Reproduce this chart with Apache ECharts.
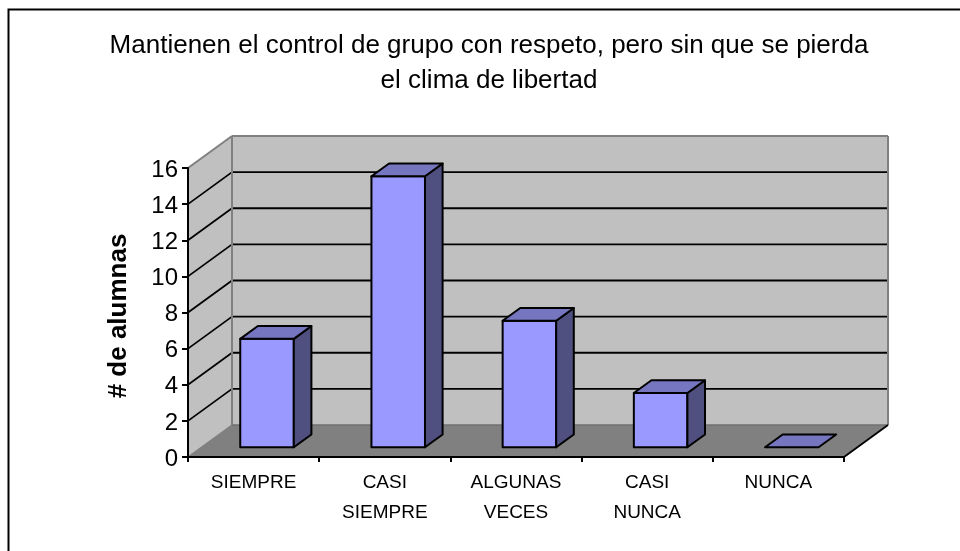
<!DOCTYPE html>
<html>
<head>
<meta charset="utf-8">
<style>html,body{margin:0;padding:0;background:#fff}#c{width:960px;height:551px}</style>
<script src="https://cdn.jsdelivr.net/npm/echarts@6/dist/echarts.min.js"></script>
</head>
<body>
<div id="c"></div>
<script>
const categories = ['SIEMPRE', 'CASI\nSIEMPRE', 'ALGUNAS\nVECES', 'CASI\nNUNCA', 'NUNCA'];
const values = [6, 15, 7, 3, 0];
const yTicks = [0, 2, 4, 6, 8, 10, 12, 14, 16];
const titleText = 'Mantienen el control de grupo con respeto, pero sin que se pierda\nel clima de libertad';
const yName = '# de alumnas';

const FONT = '"Liberation Sans", Arial, sans-serif';
const DX = 44, DY = -32;
const chart = echarts.init(document.getElementById('c'), null, {renderer: 'canvas'});

function poly(points, fill, stroke, lw) {
  return {type: 'polygon', shape: {points}, style: {fill, stroke: stroke || 'none', lineWidth: lw || 0, lineJoin: 'round'}};
}
function line(a, b, stroke, lw) {
  return {type: 'line', shape: {x1: a[0], y1: a[1], x2: b[0], y2: b[1]}, style: {stroke, lineWidth: lw}};
}
function shift(p, t) { return [p[0] + DX * t, p[1] + DY * t]; }

function renderWalls(params, api) {
  const w = api.size([1, 0])[0];
  const n = categories.length;
  const o0 = api.coord([0, 0]);
  const x0 = o0[0] - w / 2, x1 = x0 + w * n;
  const yB = o0[1];
  const yT = api.coord([0, yTicks[yTicks.length - 1]])[1];
  const FL = [x0, yB], FR = [x1, yB], TL = [x0, yT];
  const BL = shift(FL, 1), BR = shift(FR, 1), BTL = shift(TL, 1), BTR = [BR[0], BTL[1]];
  const edge = '#808080';
  const kids = [
    poly([BL, BR, BTR, BTL], '#C0C0C0'),
    poly([FL, BL, BTL, TL], '#C0C0C0'),
    poly([FL, FR, BR, BL], '#808080')
  ];
  yTicks.forEach(function (t) {
    const y = api.coord([0, t])[1];
    if (t === 0 || t === yTicks[yTicks.length - 1]) return;
    const a = [x0, y], b = shift(a, 1);
    kids.push(line(a, b, '#000', 1.8));
    kids.push(line(b, [BR[0], b[1]], '#000', 1.8));
  });
  kids.push(line(BTL, BTR, edge, 2));
  kids.push(line(TL, BTL, edge, 2));
  kids.push(line(BTL, BL, edge, 2));
  kids.push(line(BTR, BR, edge, 2));
  kids.push(line(BL, BR, '#707070', 1.5));
  kids.push(line(FL, BL, edge, 1.5));
  kids.push(line(FR, BR, '#000', 1.8));
  return {type: 'group', children: kids};
}

function renderBar(params, api) {
  const idx = api.value(0), val = api.value(1);
  const w = api.size([1, 0])[0];
  const c = api.coord([idx, 0]), top = api.coord([idx, val]);
  const bw = w / 2.45;
  const d0 = 0.305, d1 = 0.705;
  const fl = [c[0] - bw / 2, c[1]], fr = [c[0] + bw / 2, c[1]];
  const tl = [fl[0], top[1]], tr = [fr[0], top[1]];
  const F = [shift(fl, d0), shift(fr, d0), shift(tr, d0), shift(tl, d0)];
  const S = [shift(fr, d0), shift(fr, d1), shift(tr, d1), shift(tr, d0)];
  const T = [shift(tl, d0), shift(tr, d0), shift(tr, d1), shift(tl, d1)];
  const kids = [];
  if (val > 0) {
    kids.push(poly(F, '#9999FF', '#000', 2));
    kids.push(poly(S, '#4F4F80', '#000', 2));
  }
  kids.push(poly(T, '#7676C0', '#000', 2));
  return {type: 'group', children: kids};
}

chart.setOption({
  animation: false,
  backgroundColor: '#fff',
  title: {
    text: titleText, left: 484, top: 23, textAlign: 'center',
    textStyle: {fontFamily: FONT, fontSize: 26, fontWeight: 'normal', color: '#000', lineHeight: 35}
  },
  grid: {left: 188, top: 168, width: 656, height: 289, containLabel: false},
  graphic: [{type: 'rect', z: -1, shape: {x: 8.5, y: 9.5, width: 1000, height: 600},
    style: {fill: 'none', stroke: '#000', lineWidth: 2}}],
  xAxis: {
    type: 'category', data: categories, z: 5,
    axisLine: {lineStyle: {color: '#000', width: 2}},
    axisTick: {show: true, alignWithLabel: false, length: 5, lineStyle: {color: '#000', width: 2}},
    axisLabel: {fontFamily: FONT, fontSize: 19, color: '#000', lineHeight: 30, margin: 11, interval: 0},
    splitLine: {show: false}
  },
  yAxis: {
    type: 'value', min: 0, max: 16, interval: 2, z: 5,
    name: yName, nameLocation: 'middle', nameGap: 56, nameRotate: 90,
    nameTextStyle: {fontFamily: FONT, fontSize: 26, fontWeight: 'bold', color: '#000', padding: [0, 0, 0, -7]},
    axisLine: {show: true, lineStyle: {color: '#000', width: 2}},
    axisTick: {show: true, length: 6, lineStyle: {color: '#000', width: 2}},
    axisLabel: {fontFamily: FONT, fontSize: 24, color: '#000', margin: 10, verticalAlign: 'top', lineHeight: 4},
    splitLine: {show: false}
  },
  series: [
    {type: 'custom', name: 'walls', z: 1, silent: true, renderItem: renderWalls, data: [[0, 0]], encode: {x: 0, y: 1}},
    {type: 'custom', name: '# de alumnas', z: 2, renderItem: renderBar,
      data: values.map(function (v, i) { return [i, v]; }), encode: {x: 0, y: 1}}
  ]
});
</script>
</body>
</html>
